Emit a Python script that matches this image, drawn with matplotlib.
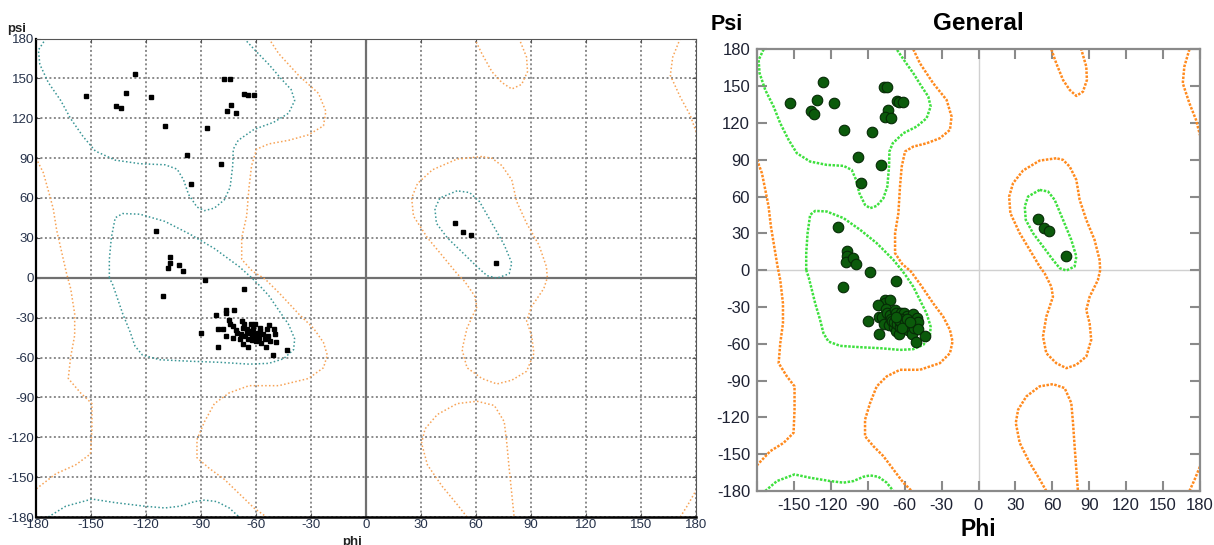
import matplotlib
matplotlib.use('Agg')
import matplotlib.pyplot as plt
import numpy as np

plt.rcParams['font.family'] = ['Liberation Sans', 'DejaVu Sans']

W, H = 1214, 545

# ---------------- data (phi, psi in degrees) ----------------
beta_points = [(-152.9, 136.5), (-126.0, 153.1), (-131.1, 138.8), (-136.2, 129.5), (-133.6, 127.5),
               (-117.1, 136.0), (-109.6, 113.9), (-97.8, 92.0), (-95.6, 70.9), (-86.8, 112.6),
               (-79.2, 85.7), (-77.2, 149.6), (-74.1, 149.6), (-73.5, 130.2), (-75.9, 125.2),
               (-70.8, 123.9), (-66.3, 138.0), (-64.3, 137.3), (-61.0, 137.3)]
bridge_points = [(-114.5, 35.4), (-106.9, 15.6), (-106.9, 11.3), (-108.0, 7.0), (-101.8, 9.8),
                 (-99.8, 5.0), (-87.9, -1.8), (-66.8, -8.5), (-110.5, -13.8)]
alpha_points = [(-76.3, -24.4), (-76.3, -26.6), (-71.9, -24.1), (-81.7, -28.4), (-81.0, -38.2),
                (-89.8, -41.7), (-80.6, -51.8), (-78.1, -38.2), (-76.6, -44.0), (-75.0, -31.9),
                (-74.1, -34.9), (-72.8, -45.0), (-72.3, -36.2), (-70.8, -39.5), (-70.1, -41.2),
                (-69.0, -46.3), (-68.3, -42.0), (-67.7, -32.4), (-66.8, -34.9), (-67.3, -49.5),
                (-65.9, -43.7), (-65.0, -38.7), (-64.6, -51.8), (-64.1, -46.3), (-63.5, -41.2),
                (-62.8, -34.9), (-62.3, -44.5), (-61.4, -38.7), (-60.8, -42.5), (-60.4, -34.9),
                (-59.9, -47.5), (-59.1, -41.2), (-58.6, -45.0), (-58.0, -37.5), (-57.3, -48.8),
                (-54.9, -46.3), (-54.4, -51.8), (-54.1, -38.7), (-53.5, -43.7), (-52.9, -35.4),
                (-52.6, -47.5), (-50.8, -58.3), (-50.1, -38.7), (-49.5, -42.5), (-49.0, -48.0),
                (-43.1, -54.0), (-63.0, -40.0), (-61.0, -45.0), (-65.0, -40.5), (-60.0, -43.0),
                (-58.0, -40.0), (-62.0, -47.0), (-67.0, -38.0), (-56.0, -42.0)]
left_points = [(48.4, 41.3), (52.9, 34.2), (57.5, 31.8), (70.9, 11.3)]

# favoured-region contours
core_beta = [(-174.6, 180), (-178.7, 171.3), (-177.9, 160.5), (-173.3, 146.9), (-166.5, 133.3),
             (-161.1, 119.7), (-154.3, 106.2), (-147.6, 95.3), (-136.8, 88.5), (-123.3, 85.8),
             (-109.7, 85.0), (-103.0, 81.7), (-99.5, 73.6), (-96.8, 62.7), (-92.2, 53.2),
             (-88.1, 50.5), (-82.7, 52.4), (-77.3, 58.6), (-74.1, 68.1), (-72.7, 84.4),
             (-72.4, 96.7), (-69.7, 103.4), (-61.1, 111.6), (-50.3, 117.0), (-42.2, 123.8),
             (-38.9, 133.3), (-40.8, 141.5), (-46.2, 149.6), (-53.0, 160.5), (-59.7, 170.0),
             (-66.5, 180)]
core_beta_wrap = [(-173.3, -180), (-163.8, -171.9), (-149.5, -166.5), (-136.8, -169.2),
                  (-120.6, -171.9), (-109.7, -173.2), (-101.6, -171.9), (-93.5, -168.4),
                  (-88.1, -167.3), (-81.4, -168.4), (-74.6, -173.2), (-69.2, -180)]
core_alpha = [(-140, 0), (-140, 13.8), (-138.9, 30.1), (-136.8, 45.1), (-132.7, 48.3),
              (-123.3, 47.8), (-109.7, 42.4), (-96.2, 32.9), (-82.7, 22.0), (-69.2, 8.4),
              (-62.4, 0), (-58.4, -5.4), (-53.0, -13.5), (-47.6, -24.4), (-42.2, -35.2),
              (-38.9, -46.0), (-39.5, -54.1), (-44.9, -60.9), (-53.0, -64.4), (-63.8, -65.0),
              (-80.0, -63.6), (-96.2, -62.8), (-112.4, -61.7), (-121.9, -58.2), (-126.0, -51.4),
              (-128.7, -40.6), (-132.7, -27.1), (-135.4, -16.2), (-138.1, -5.4), (-140, 0)]
core_left = [(49.7, 65.4), (40.3, 60.0), (37.6, 51.9), (38.4, 41.0), (44.3, 30.1),
             (52.4, 19.3), (60.5, 8.4), (66.0, 1.6), (71.4, -0.3), (78.1, 3.0),
             (79.5, 11.1), (75.4, 24.7), (68.7, 41.0), (61.9, 57.3), (56.5, 64.1), (49.7, 65.4)]

# allowed-region contours
allowed_main = [(-53.0, 180), (-47.6, 168.6), (-36.8, 152.3), (-25.9, 138.7), (-21.9, 125.2),
                (-23.2, 114.3), (-31.4, 107.5), (-42.2, 103.4), (-53.0, 100.7), (-59.7, 96.7),
                (-62.4, 84.4), (-63.8, 68.1), (-65.1, 46.4), (-67.8, 30.1), (-67.8, 13.8),
                (-62.0, 5.0), (-55.0, -1.0), (-47.0, -12.0), (-36.8, -27.1), (-28.7, -37.9),
                (-23.2, -48.7), (-21.1, -58.2), (-23.2, -67.7), (-31.4, -75.8), (-47.6, -81.2),
                (-63.8, -81.2), (-74.6, -86.6), (-82.7, -94.7), (-88.1, -108.3), (-92.2, -121.8),
                (-92.2, -135.4), (-85.4, -143.5), (-77.3, -151.6), (-69.2, -162.4), (-61.1, -173.2),
                (-54.3, -180)]
allowed_edge = [(-180, 90), (-176, 79), (-172.7, 62.7), (-170.6, 51.9), (-168.7, 35.6),
                (-166, 19.3), (-163.3, 3.0), (-161.1, -8.1), (-158.9, -27.1), (-158.9, -43.3),
                (-161.1, -59.6), (-162.4, -75.8), (-155.7, -86.6), (-149.5, -94.7), (-149.5, -113.7),
                (-150.3, -132.6), (-158.4, -140.8), (-169.2, -147.5), (-180, -159)]
allowed_top_right = [(171.4, 180), (167.3, 166), (166, 152.3), (171.4, 136), (176.8, 122.4), (180, 110)]
allowed_bottom_right = [(171.4, -180), (175.5, -171), (180, -160)]
allowed_top_small = [(59.2, 180), (63.2, 168.6), (68.7, 155), (74.1, 146.9), (79.5, 142),
                     (84.9, 145.5), (88.1, 155), (87.6, 165.9), (83.5, 180)]
allowed_left = [(63.2, 91.2), (49.7, 89.3), (36.2, 81.2), (28.1, 70.9), (24.9, 60.0),
                (25.9, 46.4), (33.5, 30.1), (41.6, 16.6), (49.7, 3.0), (53.8, -2.7),
                (59.2, -13.5), (60.5, -21.7), (55.1, -37.9), (52.4, -54.1), (55.1, -67.7),
                (63.2, -75.8), (71.4, -79.9), (79.5, -77.1), (87.6, -70.4), (91.6, -56.8),
                (90.3, -43.3), (87.6, -32.5), (90.3, -21.7), (97.0, -8.1), (98.9, 0),
                (98.4, 8.4), (94.3, 24.7), (87.6, 41.0), (82.2, 57.3), (79.5, 73.6),
                (74.1, 84.4), (68.7, 89.9), (63.2, 91.2)]
allowed_bottom_mid = [(55.1, -180), (49.7, -170.5), (41.6, -157), (33.5, -140.8), (30.3, -124.5),
                      (32.2, -113.7), (38.9, -102.9), (49.7, -94.7), (60.5, -92.9), (70.0, -96.1),
                      (75.4, -108.3), (76.8, -124.5), (78.1, -143.5), (79.5, -162.4), (80.8, -180)]

tick_values = list(range(-180, 181, 30))
left_tick_labels = [str(t) for t in tick_values]
right_x_tick_labels = [''] + [str(t) for t in tick_values[1:]]
right_y_tick_labels = [str(t) for t in tick_values]

core_contours = [core_beta, core_beta_wrap, core_alpha, core_left]
allowed_contours = [allowed_main, allowed_edge, allowed_top_right, allowed_bottom_right,
                    allowed_top_small, allowed_left, allowed_bottom_mid]
all_points = beta_points + bridge_points + alpha_points + left_points
pt_phi = [p[0] for p in all_points]
pt_psi = [p[1] for p in all_points]

# ---------------- figure ----------------
fig = plt.figure(figsize=(W / 100, H / 100), dpi=100)


def px_rect(x0, y0, x1, y1):
    return [x0 / W, 1 - y1 / H, (x1 - x0) / W, (y1 - y0) / H]


# ---------- left panel ----------
axL = fig.add_axes(px_rect(36, 38.5, 696, 517))
axL.set_xlim(-180, 180)
axL.set_ylim(-180, 180)
axL.set_xticks(tick_values)
axL.set_yticks(tick_values)
axL.set_xticklabels(left_tick_labels)
axL.set_yticklabels(left_tick_labels)
axL.grid(True, color='#8a8a8a', linestyle=(0, (1, 1.3)), linewidth=1.4)
axL.set_axisbelow(True)
axL.axhline(0, color='#707070', lw=1.6, zorder=1.5)
axL.axvline(0, color='#707070', lw=1.6, zorder=1.5)
axL.tick_params(direction='in', length=3, width=0.8, color='#555555', labelsize=9.5,
                labelcolor='#26324a', pad=1.2, top=True, right=True)
for c in core_contours:
    x, y = zip(*c)
    axL.plot(x, y, color='#3a9696', linestyle=(0, (1, 1.5)), lw=1.1, zorder=2)
for c in allowed_contours:
    x, y = zip(*c)
    axL.plot(x, y, color='#f7a356', linestyle=(0, (1, 1.5)), lw=1.1, zorder=2)
axL.plot(pt_phi, pt_psi, 's', color='black', ms=3.4, zorder=3, clip_on=False)
axL.spines['left'].set_color('black')
axL.spines['bottom'].set_color('black')
axL.spines['left'].set_linewidth(1.6)
axL.spines['bottom'].set_linewidth(1.8)
axL.spines['top'].set_color('#555555')
axL.spines['right'].set_color('#555555')
fig.text(17 / W, 1 - 29 / H, 'psi', fontsize=9.5, fontweight='bold', ha='center', va='center',
         color='#222222')
fig.text(352 / W, 1 - 536 / H, 'phi', fontsize=9.5, fontweight='bold', ha='center', va='top',
         color='#222222')

# ---------- right panel ----------
axR = fig.add_axes(px_rect(757, 49.3, 1200, 491))
axR.set_xlim(-180, 180)
axR.set_ylim(-180, 180)
axR.set_xticks(tick_values)
axR.set_yticks(tick_values)
axR.set_xticklabels(right_x_tick_labels)
axR.set_yticklabels(right_y_tick_labels)
axR.axhline(0, color='#d0d0d0', lw=1.0, zorder=1)
axR.axvline(0, color='#d0d0d0', lw=1.0, zorder=1)
axR.tick_params(direction='in', length=7, width=1.5, color='#8a8a8a', labelsize=12,
                labelcolor='#1e2233', pad=5, top=True, right=True)
for s in axR.spines.values():
    s.set_color('#8a8a8a')
    s.set_linewidth(1.6)
for c in core_contours:
    x, y = zip(*c)
    axR.plot(x, y, color='#3ee03e', linestyle=(0, (1, 0.6)), lw=1.8, zorder=2)
for c in allowed_contours:
    x, y = zip(*c)
    axR.plot(x, y, color='#ff8a1e', linestyle=(0, (1, 0.6)), lw=1.8, zorder=2)
axR.plot(pt_phi, pt_psi, 'o', color='#0b5a0b', mec='#062a06', mew=0.8, ms=7.6, zorder=3)

fig.text(978 / W, 1 - 24 / H, 'General', fontsize=17.5, fontweight='bold', ha='center', va='center')
fig.text(727 / W, 1 - 25 / H, 'Psi', fontsize=15.5, fontweight='bold', ha='center', va='center')
fig.text(978 / W, 1 - 529 / H, 'Phi', fontsize=16.5, fontweight='bold', ha='center', va='center')

fig.savefig('out.png', dpi=100)
